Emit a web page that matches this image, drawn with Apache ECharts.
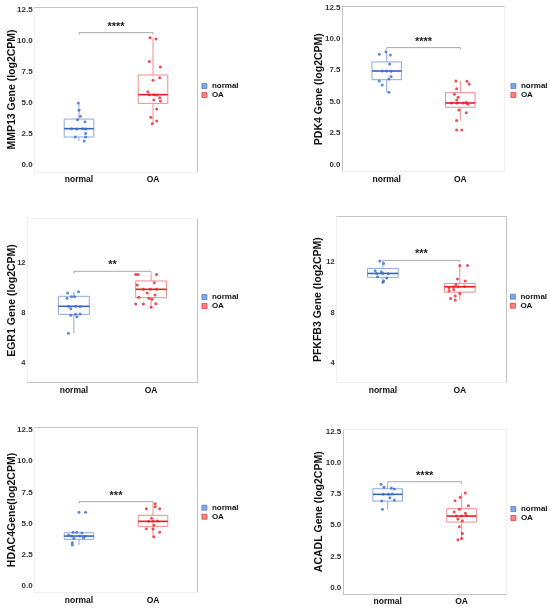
<!DOCTYPE html>
<html><head><meta charset="utf-8">
<script src="https://cdn.jsdelivr.net/npm/echarts@6/dist/echarts.min.js"></script>
<style>html,body{margin:0;padding:0;background:#fff}#c{width:550px;height:610px}</style>
</head><body><div id="c"></div>
<script>
const categories = ['normal', 'OA'];
const yTitles = ['MMP13 Gene (log2CPM)', 'PDK4 Gene (log2CPM)', 'EGR1 Gene (log2CPM)', 'PFKFB3 Gene (log2CPM)', 'HDAC4Gene(log2CPM)', 'ACADL Gene (log2CPM)'];
const stars = ['****', '****', '**', '***', '***', '****'];
const bracketHeights = [10.63, 9.3, 11.36, 12.15, 6.76, 8.49];
const yTicksA = [0, 2.5, 5, 7.5, 10, 12.5];
const yTicksB = [4, 8, 12];

// box stats: [min, q1, median, q3, max]
const normalBox = [
  [1.93, 2.25, 2.92, 3.69, 4.98],
  [5.75, 6.75, 7.44, 8.16, 8.98],
  [6.4, 7.92, 8.56, 9.36, 9.73],
  [10.4, 10.8, 11.11, 11.51, 12.1],
  [3.29, 3.74, 4.0, 4.27, 4.3],
  [6.28, 6.94, 7.48, 7.93, 8.28]
];
const oaBox = [
  [3.32, 4.95, 5.65, 7.23, 10.22],
  [3.5, 4.56, 4.9, 5.72, 6.65],
  [8.48, 9.25, 9.92, 10.59, 11.15],
  [8.99, 9.62, 10.05, 10.32, 11.75],
  [3.95, 4.78, 5.18, 5.66, 6.6],
  [3.85, 5.26, 5.74, 6.33, 7.59]
];

// points: [jitter offset, value]
const normalPts1 = [[-0.01,4.98],[0,4.39],[0.02,3.91],[-0.02,3.64],[0.08,3.48],[-0.1,2.92],[-0.03,2.89],[0.05,2.92],[0.09,2.89],[0.09,2.54],[-0.05,2.25],[0.09,2.25],[0.07,1.93]];
const oaPts1 = [[-0.04,10.22],[0.04,10.12],[-0.05,8.32],[0.1,7.87],[0.09,7.01],[0,6.8],[-0.07,5.89],[-0.05,5.65],[0.01,5.65],[0.05,5.62],[0.09,5.41],[0.01,5.22],[0.1,5.14],[0.05,4.5],[-0.03,3.83],[0.05,3.53],[-0.01,3.32]];
const normalPts2 = [[-0.01,8.98],[-0.1,8.77],[0.05,8.71],[0.04,8.0],[-0.06,7.44],[0,7.44],[0.06,7.42],[0.06,7.0],[0.03,6.8],[-0.1,6.65],[-0.06,6.33],[0.03,5.75]];
const oaPts2 = [[-0.06,6.65],[0.09,6.62],[0.12,6.41],[-0.05,6.04],[-0.08,5.59],[-0.03,5.35],[-0.05,5.14],[-0.12,4.9],[-0.04,4.9],[0.04,4.9],[0.08,4.93],[0.1,4.79],[-0.02,4.34],[0.08,4.13],[-0.05,3.5],[-0.05,2.75],[0.02,2.75]];
const normalPts3 = [[-0.08,9.63],[0.06,9.73],[-0.03,9.33],[0.01,9.33],[-0.09,9.2],[-0.07,8.56],[0.02,8.56],[0.08,8.53],[-0.04,8.37],[0.02,7.92],[-0.04,7.84],[0.08,7.95],[0.04,7.73],[-0.07,6.4]];
const oaPts3 = [[-0.2,11.1],[-0.17,11.1],[0.07,11.1],[0.04,10.45],[-0.18,10.27],[-0.1,9.92],[-0.01,9.92],[0.07,9.92],[-0.05,9.63],[0.05,9.47],[-0.16,9.28],[-0.03,9.2],[0.01,9.12],[-0.1,8.75],[0.06,8.77],[0,8.48],[-0.2,8.75]];
const normalPts4 = [[-0.04,12.1],[0.01,11.91],[-0.1,11.33],[-0.02,11.25],[-0.08,11.11],[0,11.11],[0.07,11.09],[-0.07,10.85],[0.05,10.74],[0.01,10.5],[0,10.4]];
const oaPts4 = [[0,11.75],[0.1,11.75],[-0.03,10.66],[0.07,10.5],[-0.05,10.24],[-0.14,9.97],[-0.08,10.05],[-0.02,10.05],[0.06,10.08],[-0.08,9.84],[-0.14,9.73],[0,9.52],[-0.06,9.31],[-0.12,9.12],[-0.06,8.99]];
const normalPts5 = [[0,5.9],[0.09,5.9],[-0.08,4.3],[-0.03,4.3],[0.04,4.25],[-0.14,4.09],[-0.1,4.0],[0.01,4.0],[0.08,3.98],[0.06,3.87],[-0.07,3.82],[-0.09,3.47],[-0.09,3.29]];
const oaPts5 = [[0.03,6.6],[0.03,6.36],[-0.09,6.2],[0.09,6.2],[-0.02,5.42],[-0.06,5.18],[0,5.18],[0.06,5.21],[0.01,4.89],[-0.09,4.59],[0,4.57],[0.09,4.3],[0.01,3.95]];
const normalPts6 = [[-0.09,8.28],[-0.05,8.04],[0.05,7.99],[0.09,7.9],[-0.06,7.48],[0.01,7.48],[0.06,7.5],[0.03,7.21],[0.09,7.02],[-0.08,6.94],[-0.07,6.28]];
const oaPts6 = [[0.05,7.59],[-0.02,7.24],[-0.09,6.97],[0.09,6.57],[-0.03,6.28],[-0.1,6.06],[0.05,5.96],[-0.07,5.74],[0,5.74],[0.07,5.77],[-0.05,5.5],[0.01,5.37],[-0.03,4.89],[0.01,4.35],[0,3.95],[-0.05,3.85]];
const normalPts = [normalPts1, normalPts2, normalPts3, normalPts4, normalPts5, normalPts6];
const oaPts = [oaPts1, oaPts2, oaPts3, oaPts4, oaPts5, oaPts6];

// layout (styles/positions)
const panels = [
  {left:34.6, top:7, width:162.8, height:165, ymin:-0.56, ymax:12.69, ticks:yTicksA, lfs:8, gap:17, frame:{t:1,r:1,l:0,b:0}, leg:[201.5,82]},
  {left:342.5, top:6.7, width:162, height:165, ymin:-0.56, ymax:12.55, ticks:yTicksA, lfs:8, gap:17.5, frame:{t:1,r:0,l:1,b:0}, leg:[510.5,82]},
  {left:27.5, top:218.3, width:170, height:164.4, ymin:2.45, ymax:15.6, ticks:yTicksB, lfs:7.5, gap:9.8, frame:{t:0,r:1,l:0,b:1}, leg:[201.5,293]},
  {left:336.7, top:216.7, width:169.3, height:166, ymin:2.41, ymax:15.63, ticks:yTicksB, lfs:7.5, gap:13.2, frame:{t:1,r:1,l:0,b:0}, leg:[510,292.7]},
  {left:34.6, top:427.3, width:162.8, height:165.4, ymin:-0.54, ymax:12.72, ticks:yTicksA, lfs:8, gap:17, frame:{t:1,r:1,l:0,b:0}, leg:[201.5,503.7]},
  {left:343.3, top:429.2, width:162.7, height:165.1, ymin:-0.53, ymax:12.7, ticks:yTicksA, lfs:8, gap:19, frame:{t:0,r:0,l:1,b:1}, leg:[510.5,505]}
];
const FONT = '"Liberation Sans", Arial, sans-serif';
const COL = {
  normal: {pt:'#3a6bcc', box:'#8ea8dc', med:'#3563c6'},
  OA: {pt:'#e8202a', box:'#f28c8c', med:'#e41e26'}
};
const strong = '#c4c4c4', faint = '#f0f0f0';

const grid = [], xAxis = [], yAxis = [], series = [], legend = [];
panels.forEach((p, i) => {
  grid.push({left:p.left, top:p.top, width:p.width, height:p.height, containLabel:false});
  const fmt = p.ticks === yTicksA ? (v => Number(v).toFixed(1)) : (v => String(Math.round(v)));
  xAxis.push({type:'value', gridIndex:i, position:'bottom', min:0.4, max:2.6,
    axisLine:{show:true, onZero:false, lineStyle:{color:p.frame.b?strong:faint, width:1}},
    axisTick:{show:false}, splitLine:{show:false},
    axisLabel:{customValues:[1,2], formatter:v => categories[Math.round(v)-1], margin:3,
      fontFamily:FONT, fontWeight:'bold', fontSize:8.5, color:'#111'}});
  xAxis.push({type:'value', gridIndex:i, position:'top', min:0.4, max:2.6,
    axisLine:{show:true, onZero:false, lineStyle:{color:p.frame.t?strong:faint, width:1}},
    axisTick:{show:false}, axisLabel:{show:false}, splitLine:{show:false}});
  yAxis.push({type:'value', gridIndex:i, position:'left', min:p.ymin, max:p.ymax,
    name:yTitles[i], nameLocation:'middle', nameGap:p.gap, nameRotate:90, nameMoveOverlap:false,
    nameTextStyle:{fontFamily:FONT, fontWeight:'bold', fontSize:10.5, color:'#111'},
    axisLine:{show:true, onZero:false, lineStyle:{color:p.frame.l?strong:faint, width:1}},
    axisTick:{show:false}, splitLine:{show:false},
    axisLabel:{customValues:p.ticks, formatter:fmt, margin:2,
      fontFamily:FONT, fontWeight:'bold', fontSize:p.lfs, color:'#333'}});
  yAxis.push({type:'value', gridIndex:i, position:'right', min:p.ymin, max:p.ymax,
    axisLine:{show:true, onZero:false, lineStyle:{color:p.frame.r?strong:faint, width:1}},
    axisTick:{show:false}, axisLabel:{show:false}, splitLine:{show:false}});
  const xi = 2*i, yi = 2*i;
  // boxes
  series.push({type:'custom', xAxisIndex:xi, yAxisIndex:yi, z:2, silent:true,
    data:[[1].concat(normalBox[i], [0]), [2].concat(oaBox[i], [1])],
    renderItem:(params, api) => {
      const x = api.value(0);
      const c = api.value(6) === 0 ? COL.normal : COL.OA;
      const pMin = api.coord([x, api.value(1)]);
      const pQ1 = api.coord([x, api.value(2)]);
      const pMed = api.coord([x, api.value(3)]);
      const pQ3 = api.coord([x, api.value(4)]);
      const pMax = api.coord([x, api.value(5)]);
      const l = api.coord([x-0.2, 0])[0], r = api.coord([x+0.2, 0])[0];
      return {type:'group', children:[
        {type:'line', shape:{x1:pMin[0], y1:pMin[1], x2:pQ1[0], y2:pQ1[1]}, style:{stroke:c.box, lineWidth:1}},
        {type:'line', shape:{x1:pQ3[0], y1:pQ3[1], x2:pMax[0], y2:pMax[1]}, style:{stroke:c.box, lineWidth:1}},
        {type:'rect', shape:{x:l, y:pQ3[1], width:r-l, height:pQ1[1]-pQ3[1]}, style:{fill:'rgba(255,255,255,0)', stroke:c.box, lineWidth:1}},
        {type:'line', z2:10, shape:{x1:l, y1:pMed[1], x2:r, y2:pMed[1]}, style:{stroke:c.med, lineWidth:1.6}}
      ]};
    }});
  series.push({type:'scatter', name:'normal', xAxisIndex:xi, yAxisIndex:yi, z:3, symbolSize:3,
    itemStyle:{color:COL.normal.pt}, data:normalPts[i].map(d => [1 + d[0], d[1]])});
  series.push({type:'scatter', name:'OA', xAxisIndex:xi, yAxisIndex:yi, z:3, symbolSize:3,
    itemStyle:{color:COL.OA.pt}, data:oaPts[i].map(d => [2 + d[0], d[1]])});
  // significance bracket
  series.push({type:'custom', xAxisIndex:xi, yAxisIndex:yi, z:4, silent:true,
    data:[[1, 2, bracketHeights[i]]],
    renderItem:(params, api) => {
      const a = api.coord([api.value(0), api.value(2)]);
      const b = api.coord([api.value(1), api.value(2)]);
      return {type:'group', children:[
        {type:'polyline', shape:{points:[[a[0], a[1]+2],[a[0], a[1]],[b[0], b[1]],[b[0], b[1]+2]]}, style:{stroke:'#a8a8a8', lineWidth:1, fill:null}},
        {type:'text', style:{x:(a[0]+b[0])/2, y:a[1]-6, text:stars[i], align:'center', verticalAlign:'middle',
          font:'bold 11px ' + FONT, fill:'#222'}}
      ]};
    }});
  legend.push({orient:'vertical', left:p.leg[0], top:p.leg[1], itemWidth:5, itemHeight:5, itemGap:1, padding:0,
    selectedMode:false, icon:'rect',
    textStyle:{fontFamily:FONT, fontWeight:'bold', fontSize:8, color:'#111', lineHeight:7},
    data:[
      {name:'normal', itemStyle:{color:'#6d8fd6', borderColor:'#3a6bcc', borderWidth:0.8}},
      {name:'OA', itemStyle:{color:'#ee6666', borderColor:'#e8202a', borderWidth:0.8}}
    ]});
});

const chart = echarts.init(document.getElementById('c'), null, {renderer:'canvas'});
chart.setOption({animation:false, backgroundColor:'#fff', grid, xAxis, yAxis, series, legend});
</script></body></html>
